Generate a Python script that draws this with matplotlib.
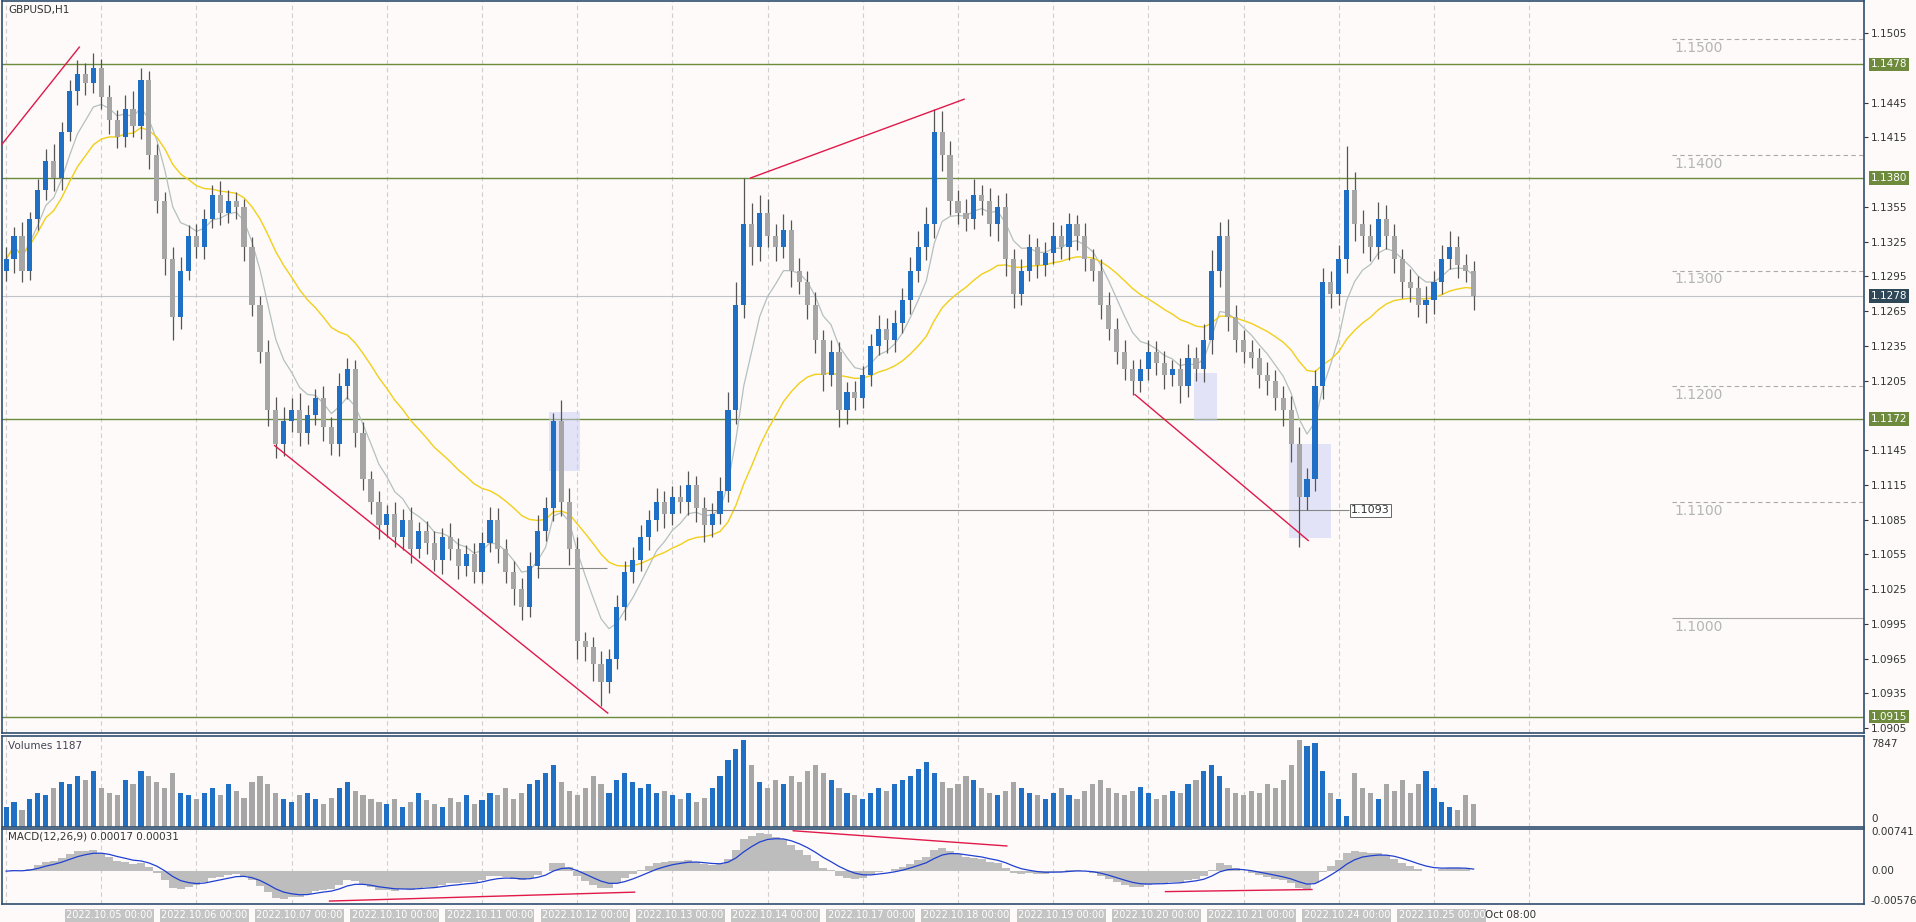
import matplotlib
matplotlib.use("Agg")
import matplotlib.pyplot as plt
import numpy as np
import pandas as pd
from matplotlib.patches import Rectangle

closes = [1.1310,1.1330,1.1300,1.1345,1.1370,1.1395, 1.1380,1.1420,1.1455,1.1470,1.1462,1.1475,
 1.1450,1.1430,1.1415,1.1440,1.1425,1.1465, 1.1400,1.1360,1.1310,1.1260,1.1300,1.1330,
 1.1320,1.1345,1.1365,1.1350,1.1360,1.1355, 1.1320,1.1270,1.1230,1.1180,1.1150,1.1170,
 1.1180,1.1160,1.1175,1.1190,1.1165,1.1150, 1.1200,1.1215,1.1160,1.1120,1.1100,1.1080,
 1.1090,1.1070,1.1085,1.1060,1.1075,1.1065, 1.1050,1.1070,1.1060,1.1045,1.1055,1.1040,
 1.1065,1.1085,1.1060,1.1040,1.1025,1.1010, 1.1045,1.1075,1.1095,1.1170,1.1100,1.1060,
 1.0980,1.0975,1.0960,1.0945,1.0965,1.1010, 1.1040,1.1050,1.1070,1.1085,1.1100,1.1090,
 1.1105,1.1100,1.1115,1.1095,1.1080,1.1090, 1.1110,1.1180,1.1270,1.1340,1.1320,1.1350,
 1.1330,1.1320,1.1335,1.1300,1.1290,1.1270, 1.1240,1.1210,1.1230,1.1180,1.1195,1.1190,
 1.1210,1.1235,1.1250,1.1240,1.1255,1.1275, 1.1300,1.1320,1.1340,1.1420,1.1400,1.1360,
 1.1350,1.1345,1.1365,1.1360,1.1340,1.1355, 1.1310,1.1280,1.1300,1.1320,1.1305,1.1315,
 1.1330,1.1320,1.1340,1.1330,1.1310,1.1300, 1.1270,1.1250,1.1230,1.1215,1.1205,1.1215,
 1.1230,1.1220,1.1210,1.1215,1.1200,1.1225, 1.1215,1.1240,1.1300,1.1330,1.1260,1.1240,
 1.1230,1.1225,1.1210,1.1205,1.1190,1.1180, 1.1150,1.1105,1.1120,1.1200,1.1290,1.1280,
 1.1310,1.1370,1.1340,1.1330,1.1320,1.1345, 1.1330,1.1310,1.1290,1.1285,1.1270,1.1275,
 1.1290,1.1310,1.1320,1.1305,1.1300,1.1278]
first_open = 1.1300
wick_up_pips = [10,8,12,6,9,10,14,8,10,12,9,13, 8,10,9,12,15,10,7,9,8,10,12,9,
 10,8,9,12,10,8,7,9,8,10,11,12, 10,14,9,8,10,9,12,10,8,9,7,10,
 8,10,9,11,8,9,10,8,12,9,8,10, 9,11,10,8,9,10,12,14,10,7,18,12,
 10,8,9,12,8,10,9,11,10,8,12,10, 9,10,12,8,10,9,12,15,20,40,18,15,
 12,10,14,9,11,10,12,9,10,8,9,10, 8,10,12,9,11,10,12,14,15,20,18,12,
 10,12,14,9,11,10,12,9,10,12,8,10, 12,9,10,8,11,9,10,12,9,10,8,9,
 10,9,11,8,10,12,9,14,18,12,15,10, 9,10,8,11,9,10,12,15,10,14,12,10,
 12,38,15,12,10,14,12,10,9,11,10,12, 10,12,14,10,9,8]
wick_dn_pips = [9,12,10,8,10,9,11,10,8,12,10,9, 10,12,9,8,10,11,12,10,14,20,10,8,
 9,10,8,11,9,10,12,9,10,14,12,10, 9,11,10,8,12,9,10,11,12,9,10,12,
 10,9,11,12,8,10,9,12,10,11,9,10, 10,8,12,10,14,12,9,10,8,11,12,14,
 15,12,14,21,10,9,12,10,9,11,10,12, 10,9,11,12,14,10,9,10,12,11,15,12,
 10,12,9,14,10,12,11,14,10,15,12,10, 9,10,8,11,10,9,12,10,11,12,14,12,
 10,11,9,12,10,14,15,12,10,9,11,10, 9,10,11,12,10,9,12,10,11,9,12,10,
 9,10,12,10,14,9,10,11,12,14,12,10, 10,9,11,12,10,14,15,44,12,10,11,12,
 10,12,14,15,12,10,11,12,14,12,10,15, 12,10,9,11,10,12]
volumes_h = [18,22,15,25,30,28,35,40,38,45,42,50, 35,30,28,42,38,50,45,40,35,48,30,28,
 25,30,35,28,38,32,26,40,45,38,30,25, 22,28,30,25,20,26,35,40,32,28,25,22,
 20,25,18,22,30,24,20,18,26,22,28,20, 24,30,28,35,25,30,38,42,48,55,40,32,
 28,35,45,38,30,42,48,40,35,38,30,32, 28,25,30,22,26,35,45,60,70,78,55,40,
 35,42,38,45,40,50,55,48,42,35,30,28, 25,30,35,32,38,42,45,52,58,48,40,35,
 38,45,42,35,30,28,32,40,35,30,28,25, 30,35,28,25,32,38,42,35,30,28,32,36,
 30,25,28,32,30,38,42,50,55,45,35,30, 28,32,30,38,35,42,55,78,72,75,50,30,
 25,10,48,35,30,25,38,32,42,30,38,50, 35,22,18,15,28,20]
day_labels = ["2022.10.05 00:00","2022.10.06 00:00","2022.10.07 00:00","2022.10.10 00:00",
 "2022.10.11 00:00","2022.10.12 00:00","2022.10.13 00:00","2022.10.14 00:00",
 "2022.10.17 00:00","2022.10.18 00:00","2022.10.19 00:00","2022.10.20 00:00",
 "2022.10.21 00:00","2022.10.24 00:00","2022.10.25 00:00"]
levels = [1.1478, 1.1380, 1.1172, 1.0915]
last_price = 1.1278
round_levels = [1.1500, 1.1400, 1.1300, 1.1200, 1.1100]
price_ticks = [1.1505,1.1445,1.1415,1.1355,1.1325,1.1295,1.1265,1.1235,1.1205,
 1.1145,1.1115,1.1085,1.1055,1.1025,1.0995,1.0965,1.0935,1.0905]

W, H = 1570.0, 755.0
BG = "#fdfaf9"
n = len(closes)
c = np.array(closes)
o = np.concatenate([[first_open], c[:-1]])
hi = np.maximum(o, c) + np.array(wick_up_pips) / 10000
lo = np.minimum(o, c) - np.array(wick_dn_pips) / 10000
vol = np.array(volumes_h) * 100
idx = np.arange(n)
x_of = lambda px: (px - 5) / 6.5
XL = (x_of(2), x_of(1527))

fig = plt.figure(figsize=(19.16, 9.22), dpi=100, facecolor=BG)
def rect(y0, y1):
    return [2 / W, 1 - y1 / H, 1525 / W, (y1 - y0) / H]
ax = fig.add_axes(rect(1, 600))
axv = fig.add_axes(rect(603, 677))
axm = fig.add_axes(rect(679, 740))
for a in (ax, axv, axm):
    a.set_facecolor(BG)
    a.set_xlim(*XL)
    for s in a.spines.values():
        s.set_color("#2f4f6f"); s.set_linewidth(1.2)
    a.yaxis.tick_right()
    a.tick_params(axis="y", labelsize=7.5, colors="#333", length=3, pad=2)
    a.tick_params(axis="x", length=0, labelbottom=False)
    for g in range(0, n + 12, 12):
        a.axvline(g, color="#cfcfcf", ls=(0, (4, 3)), lw=0.8, zorder=0)

ax.set_ylim(1.15 - 569 / 9500, 1.15 + 31 / 9500)
ax.set_yticks(price_ticks)
ax.set_yticklabels([f"{t:.4f}" for t in price_ticks])

s = pd.Series(c)
ax.plot(idx, s.ewm(span=7).mean(), color="#b4c0c0", lw=0.9, zorder=2)
ax.plot(idx, s.ewm(span=25).mean(), color="#f2cf1a", lw=1.0, zorder=2)

up = c >= o
ax.vlines(idx, lo, hi, color="#555", lw=0.9, zorder=3)
ax.bar(idx, np.maximum(np.abs(c - o), 0.00005), bottom=np.minimum(o, c), width=0.65,
       color=np.where(up, "#1f6fc5", "#a6a6a6"), zorder=4)

for lv in levels:
    ax.axhline(lv, color="#6e8b3d", lw=1.0, zorder=1)
    ax.text(1.004, lv, f"{lv:.4f}", transform=ax.get_yaxis_transform(), fontsize=7.5,
            color="white", va="center", bbox=dict(fc="#6e8b3d", ec="none", pad=1.2), clip_on=False)
ax.axhline(last_price, color="#c0c4c8", lw=0.8, zorder=1)
ax.text(1.004, last_price, f"{last_price:.4f}", transform=ax.get_yaxis_transform(), fontsize=7.5,
        color="white", va="center", bbox=dict(fc="#2f4858", ec="none", pad=1.2), clip_on=False)
for lv in round_levels:
    ax.hlines(lv, x_of(1370), XL[1], color="#aaa", ls=(0, (4, 3)), lw=0.8)
    ax.text(x_of(1372), lv - 0.00015, f"{lv:.4f}", fontsize=10, color="#b5b5b5", va="top")
ax.hlines(1.1000, x_of(1370), XL[1], color="#aaa", lw=0.8)
ax.text(x_of(1372), 1.1000 - 0.00015, "1.1000", fontsize=10, color="#b5b5b5", va="top")

red = "#e0194a"
def seg(a, p1, p2, **kw):
    a.plot([x_of(p1[0]), x_of(p2[0])], [p1[1], p2[1]], color=red, lw=1.0, zorder=5, **kw)
seg(ax, (0, 1.1407), (65, 1.1493))
seg(ax, (225, 1.1149), (498, 1.0918))
seg(ax, (615, 1.1380), (790, 1.1448))
seg(ax, (930, 1.1193), (1072, 1.1067))
for x0, x1, p0, p1 in [(450, 475, 1.1127, 1.1178), (978, 997, 1.1170, 1.1212), (1056, 1091, 1.1069, 1.1150)]:
    ax.add_patch(Rectangle((x_of(x0), p0), x_of(x1) - x_of(x0), p1 - p0, fc="#c8cdf5", alpha=0.5, ec="none", zorder=1))
ax.hlines(1.1093, x_of(575), x_of(1105), color="#888", lw=0.8)
ax.text(x_of(1107), 1.1093, "1.1093", fontsize=8, va="center", color="#333",
        bbox=dict(fc="white", ec="#666", pad=1.0, lw=0.7))
ax.hlines(1.1043, x_of(440), x_of(497), color="#888", lw=0.8)
ax.text(0.003, 0.995, "GBPUSD,H1", transform=ax.transAxes, fontsize=7.5, va="top", color="#333")

axv.bar(idx, vol, width=0.65, color=np.where(up, "#1f6fc5", "#a6a6a6"))
axv.set_ylim(0, 7847 / 0.97)
axv.set_yticks([])
axv.text(1.004, 0.97, "7847", transform=axv.transAxes, fontsize=7.5, va="top", color="#333", clip_on=False)
axv.text(1.004, 0.03, "0", transform=axv.transAxes, fontsize=7.5, va="bottom", color="#333", clip_on=False)
axv.text(0.003, 0.95, "Volumes 1187", transform=axv.transAxes, fontsize=7.5, va="top", color="#445")

macd = s.ewm(span=6, adjust=False).mean() - s.ewm(span=13, adjust=False).mean()
sig = macd.ewm(span=5, adjust=False).mean()
axm.bar(idx, macd, width=1.0, color="#bdbdbd")
axm.plot(idx, sig, color="#2040d0", lw=0.9)
axm.set_ylim(-0.0062, 0.0080)
axm.set_yticks([])
for v, lab, va in [(0.00741, "0.00741", "center"), (0.0, "0.00", "center"), (-0.00576, "-0.00576", "center")]:
    axm.text(1.004, v, lab, transform=axm.get_yaxis_transform(), fontsize=7.5, va=va, color="#333", clip_on=False)
axm.text(0.003, 0.97, "MACD(12,26,9) 0.00017 0.00031", transform=axm.transAxes, fontsize=7.5, va="top", color="#333")
for p1, p2 in [((270, -0.0057), (520, -0.0040)), ((650, 0.0077), (825, 0.0048)), ((955, -0.0039), (1075, -0.0035))]:
    seg(axm, p1, p2)

for k, lab in enumerate(day_labels):
    g = 12 * (k + 1) + 1
    axm.text(g, -0.09, lab, transform=axm.get_xaxis_transform(), fontsize=7, color="white",
             ha="center", va="top", bbox=dict(fc="#c4c4c4", ec="none", pad=1.0), clip_on=False)
axm.text(x_of(1217), -0.09, "Oct 08:00", transform=axm.get_xaxis_transform(), fontsize=7.5,
         color="#333", va="top", clip_on=False)

fig.savefig("out.png", dpi=100, facecolor=BG)
